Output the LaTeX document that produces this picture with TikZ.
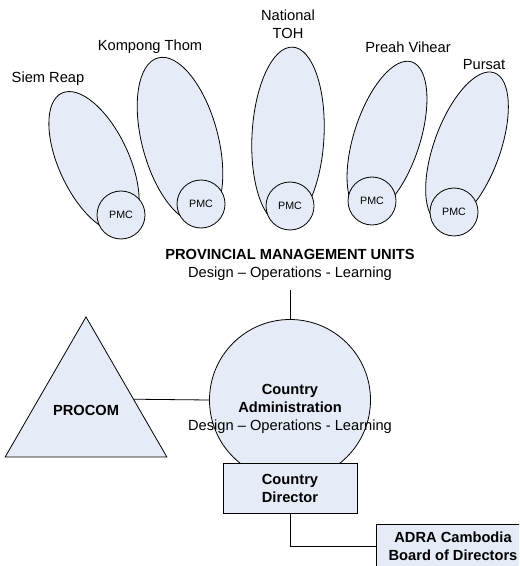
\documentclass[tikz,border=0pt]{standalone}
\usepackage{fontspec}
\setmainfont{Liberation Sans}
\usepackage{xcolor}
\usepackage{tikz}
\usetikzlibrary{shapes}
\usetikzlibrary{positioning}
\definecolor{unitfill}{RGB}{230,236,247}
\tikzstyle{unit} = [ellipse, draw, fill=unitfill, inner sep=0pt]
\tikzstyle{pmc} = [circle, draw, fill=unitfill, inner sep=0pt, minimum size=36pt, font=\fontsize{8}{9.6}\selectfont]
\tikzstyle{office} = [rectangle, draw, fill=unitfill, align=center, font=\fontsize{11}{13.5}\selectfont\bfseries]
\tikzstyle{caption} = [align=center]

\begin{document}
\begin{tikzpicture}[x=0.75pt, y=-0.75pt, font=\fontsize{11}{13.5}\selectfont, line width=0.6pt]

\clip (0,0) rectangle (519,566);

%% provinces

\node [unit, minimum width=52.5pt, minimum height=114pt, rotate=25] at (94,162) (siem) {};
\node [unit, minimum width=57pt, minimum height=127.5pt, rotate=15] at (180,140) (kompong) {};
\node [unit, minimum width=54pt, minimum height=133.5pt, rotate=-3] at (288,136) (national) {};
\node [unit, minimum width=49.5pt, minimum height=120pt, rotate=-18] at (387,138) (preah) {};
\node [unit, minimum width=49.5pt, minimum height=120pt, rotate=-20] at (467,148) (pursat) {};

\node [pmc] at (121,215) (pmc1) {PMC};
\node [pmc] at (201,204) (pmc2) {PMC};
\node [pmc] at (290,206) (pmc3) {PMC};
\node [pmc] at (372,201) (pmc4) {PMC};
\node [pmc] at (454,212) (pmc5) {PMC};

\node at (48,79) (siemlbl) {Siem Reap};
\node at (150,47) (komponglbl) {Kompong Thom};
\node [caption] at (288,24) (nationallbl) {National\\TOH};
\node at (408,47) (preahlbl) {Preah Vihear};
\node at (484,65) (pursatlbl) {Pursat};

%% country office

\node [caption, outer sep=4pt] at (290,265) (pmu) {\textbf{PROVINCIAL MANAGEMENT UNITS}\\Design – Operations - Learning};

\node [circle, draw, fill=unitfill, inner sep=0pt, minimum size=120.75pt] at (290,400) (admin) {};
\node [caption] at (290,409) (admintxt) {\textbf{Country}\\\textbf{Administration}\\Design – Operations - Learning};

\node [regular polygon, regular polygon sides=3, draw, fill=unitfill, inner sep=0pt, minimum size=128.1pt, font=\fontsize{11}{13.5}\selectfont\bfseries] at (86,410.3) (procom) {PROCOM};

\node [office, minimum width=100.5pt, minimum height=37.5pt] at (290,488) (director) {Country\\Director};
\node [office, minimum width=115.5pt, minimum height=33pt] at (453,546) (board) {ADRA Cambodia\\Board of Directors};

\path [draw] (pmu) to (admin);
\path [draw] (procom.13.4) to (admin.west);
\path [draw] (director) |- (board);

\end{tikzpicture}
\end{document}
